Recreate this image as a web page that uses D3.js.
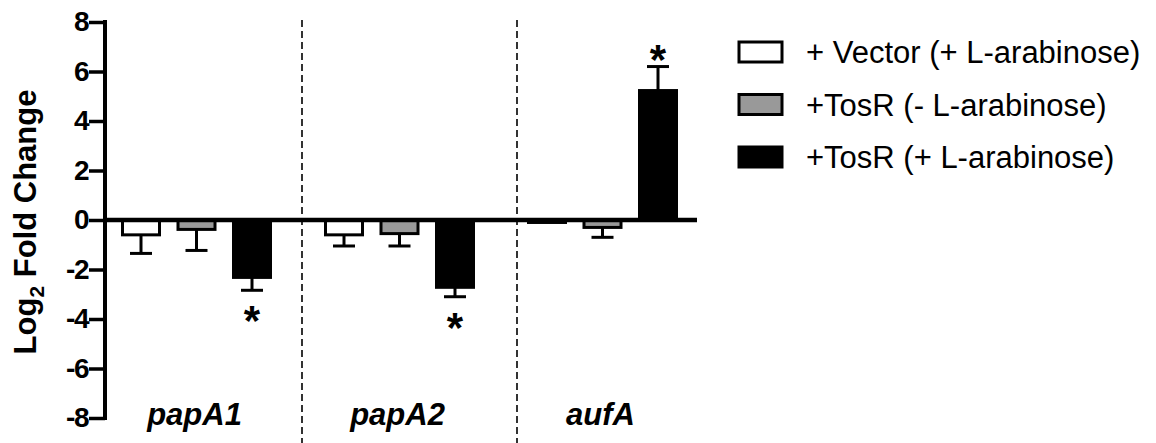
<!DOCTYPE html>
<html>
<head>
<meta charset="utf-8">
<script src="https://cdn.jsdelivr.net/npm/d3@7"></script>
<style>
  html, body { margin: 0; padding: 0; background: #fff; }
  svg { display: block; }
</style>
</head>
<body>
<svg id="chart" width="1156" height="443"></svg>
<script>
// ---- data ----
const categories = ["papA1", "papA2", "aufA"];
const seriesNames = ["+ Vector (+ L-arabinose)", "+TosR (- L-arabinose)", "+TosR (+ L-arabinose)"];
const seriesFill = ["#ffffff", "#999999", "#000000"];
const vectorValues = [-0.6, -0.6, -0.1];
const vectorErrors = [0.75, 0.45, 0.0];
const tosRMinusValues = [-0.38, -0.55, -0.3];
const tosRMinusErrors = [0.85, 0.5, 0.4];
const tosRPlusValues = [-2.32, -2.72, 5.23];
const tosRPlusErrors = [0.52, 0.38, 0.97];
const significant = [[false, false, true], [false, false, true], [false, false, true]]; // [category][series]
const yTicks = [-8, -6, -4, -2, 0, 2, 4, 6, 8];

const seriesValues = [vectorValues, tosRMinusValues, tosRPlusValues];
const seriesErrors = [vectorErrors, tosRMinusErrors, tosRPlusErrors];

// ---- layout ----
const svg = d3.select("#chart");
const axisX = 105;
const y = d3.scaleLinear().domain([-8, 8]).range([418, 22]);
const x0 = d3.scaleBand().domain(categories).range([95, 704]);
const x1 = d3.scalePoint().domain(d3.range(seriesNames.length)).range([-55.5, 55.5]);
const barW = 37;
const font = "Liberation Sans, Arial, Helvetica, sans-serif";

// dashed dividers
const dividerX = [x0(categories[1]) + 4, x0(categories[2]) + 16];
svg.selectAll("line.div").data(dividerX).join("line")
  .attr("x1", d => d).attr("x2", d => d)
  .attr("y1", 20).attr("y2", 443)
  .attr("stroke", "#000").attr("stroke-width", 1.6)
  .attr("stroke-dasharray", "7,4");

// bars data
const bars = [];
categories.forEach((c, ci) => {
  seriesNames.forEach((s, si) => {
    bars.push({ c, ci, si, v: seriesValues[si][ci], e: seriesErrors[si][ci], sig: significant[ci][si] });
  });
});
const cx = d => x0(d.c) + x0.bandwidth() / 2 + x1(d.si);

// error bars (drawn behind bars)
const errG = svg.append("g").attr("stroke", "#000").attr("stroke-width", 3);
bars.filter(d => d.e > 0).forEach(d => {
  const end = d.v + (d.v >= 0 ? d.e : -d.e);
  errG.append("line").attr("x1", cx(d)).attr("x2", cx(d)).attr("y1", y(d.v)).attr("y2", y(end));
  errG.append("line").attr("x1", cx(d) - 11).attr("x2", cx(d) + 11).attr("y1", y(end)).attr("y2", y(end));
});

svg.append("g").selectAll("rect").data(bars).join("rect")
  .attr("x", d => cx(d) - barW / 2)
  .attr("width", barW)
  .attr("y", d => y(Math.max(0, d.v)))
  .attr("height", d => Math.abs(y(d.v) - y(0)))
  .attr("fill", d => seriesFill[d.si])
  .attr("stroke", "#000").attr("stroke-width", 3);

// asterisks
svg.append("g").selectAll("text").data(bars.filter(d => d.sig)).join("text")
  .attr("x", cx)
  .attr("y", d => d.v >= 0 ? y(d.v + d.e) + 7 : y(d.v - d.e) + 45)
  .attr("text-anchor", "middle")
  .attr("font-family", font).attr("font-weight", "bold").attr("font-size", 42)
  .text("*");

// zero baseline
svg.append("line").attr("x1", axisX).attr("x2", 697)
  .attr("y1", y(0)).attr("y2", y(0))
  .attr("stroke", "#000").attr("stroke-width", 4.5);

// y axis
const yAxis = svg.append("g").attr("transform", `translate(${axisX},0)`)
  .call(d3.axisLeft(y).tickValues(yTicks).tickSize(16).tickSizeOuter(0).tickPadding(1).tickFormat(d => String(d)));
yAxis.select(".domain").attr("stroke-width", 4).attr("d", `M0,${y(8) - 2}V${y(-8) + 2}`);
yAxis.selectAll(".tick line").attr("stroke-width", 3.5);
yAxis.selectAll(".tick text")
  .attr("font-family", font).attr("font-weight", "bold").attr("font-size", 28)
  .attr("letter-spacing", -1.5).attr("fill", "#000");

// y title
const yt = svg.append("text")
  .attr("transform", `translate(36,${y(0) + 2}) rotate(-90)`)
  .attr("text-anchor", "middle")
  .attr("font-family", font).attr("font-weight", "bold").attr("font-size", 31);
yt.append("tspan").text("Log");
yt.append("tspan").attr("font-size", 21).attr("dy", 8).text("2");
yt.append("tspan").attr("dy", -8).text(" Fold Change");

// category labels
svg.append("g").selectAll("text").data(categories).join("text")
  .attr("x", d => x0(d) + x0.bandwidth() / 2 - 2)
  .attr("y", 425)
  .attr("text-anchor", "middle")
  .attr("font-family", font).attr("font-weight", "bold").attr("font-style", "italic").attr("font-size", 31)
  .text(d => d);

// legend
const leg = svg.append("g");
seriesNames.forEach((s, i) => {
  const yy = 42 + i * 52.5;
  leg.append("rect").attr("x", 739).attr("y", yy).attr("width", 43).attr("height", 20)
    .attr("fill", seriesFill[i]).attr("stroke", "#000").attr("stroke-width", 3);
  leg.append("text").attr("x", 806).attr("y", yy + 21)
    .attr("font-family", font).attr("font-size", 31)
    .text(s);
});
</script>
</body>
</html>
